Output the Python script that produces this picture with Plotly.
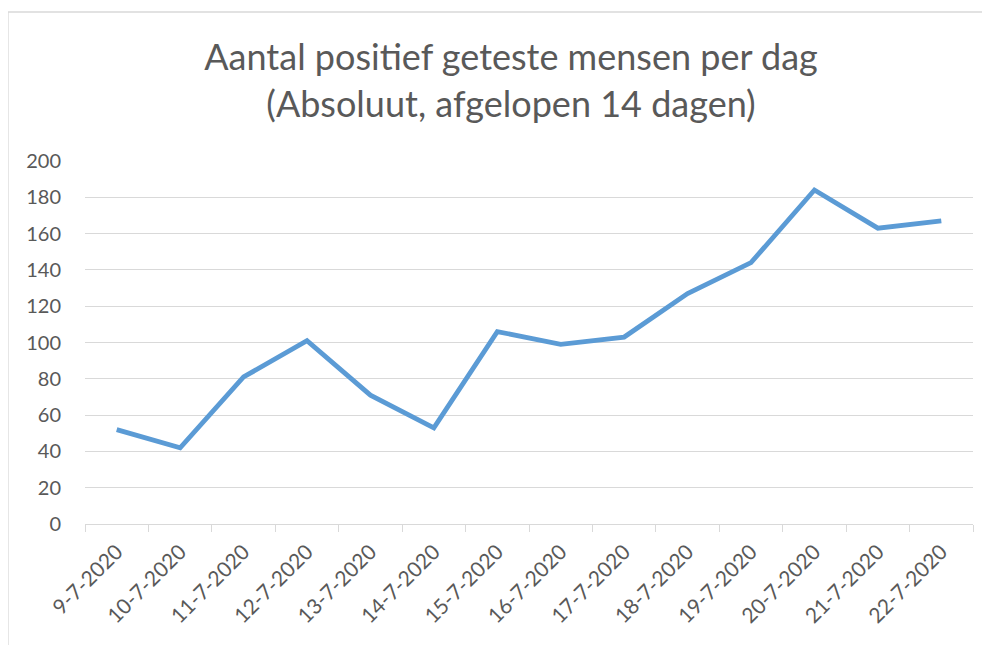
import plotly.graph_objects as go

dates = ["9-7-2020", "10-7-2020", "11-7-2020", "12-7-2020", "13-7-2020", "14-7-2020",
         "15-7-2020", "16-7-2020", "17-7-2020", "18-7-2020", "19-7-2020", "20-7-2020",
         "21-7-2020", "22-7-2020"]
positief = [52, 42, 81, 101, 71, 53, 106, 99, 103, 127, 144, 184, 163, 167]
y_ticks = [0, 20, 40, 60, 80, 100, 120, 140, 160, 180, 200]

FONT = "Lato"
GREY = "#595959"
GRID = "#d9d9d9"

fig = go.Figure(go.Scatter(
    x=dates, y=positief, mode="lines",
    line=dict(color="#5B9BD5", width=4.8, shape="linear"),
    hoverinfo="x+y",
))

# page body adds an 8px offset, so the figure is sized to fill the rest of the window
W, H = 982, 637
L, R, T, B = 77, 17, 153, 121
PW, PH = W - L - R, H - T - B

fig.update_layout(
    width=W, height=H,
    margin=dict(l=L, r=R, t=T, b=B, autoexpand=False),
    paper_bgcolor="white", plot_bgcolor="white",
    showlegend=False,
    font=dict(family=FONT, color=GREY),
    title=dict(
        text="Aantal positief geteste mensen per dag<br>(Absoluut, afgelopen 14 dagen)",
        font=dict(family=FONT, size=36, color=GREY),
        x=503 / W, xanchor="center", xref="container",
        y=1 - 62 / H, yanchor="top", yref="container",
    ),
    xaxis=dict(
        type="category",
        range=[-0.5, len(dates) - 0.5],
        showgrid=False,
        showline=True, linecolor=GRID, linewidth=1.3,
        ticks="outside", tickson="boundaries", ticklen=7, tickcolor=GRID, tickwidth=1.3,
        tickangle=-45, automargin=False, ticklabelstandoff=6,
        tickfont=dict(family=FONT, size=21, color=GREY),
        fixedrange=True,
    ),
    yaxis=dict(
        range=[0, 200],
        tickvals=y_ticks,
        showgrid=True, gridcolor=GRID, gridwidth=1.3,
        zeroline=False, showline=False,
        ticks="", ticklabelstandoff=23, automargin=False,
        tickfont=dict(family=FONT, size=20, color=GREY),
        fixedrange=True,
    ),
    shapes=[
        dict(type="line", xref="paper", yref="paper",
             x0=(0 - L) / PW, x1=(0 - L) / PW,
             y0=(H - 4 - B) / PH, y1=-B / PH - 0.05,
             line=dict(color=GRID, width=1.3)),
        dict(type="line", xref="paper", yref="paper",
             x0=(0 - L) / PW, x1=1 + (R + 5) / PW,
             y0=(H - 4 - B) / PH, y1=(H - 4 - B) / PH,
             line=dict(color=GRID, width=1.3)),
    ],
)

fig.write_html("out.html", config={"displayModeBar": False})
